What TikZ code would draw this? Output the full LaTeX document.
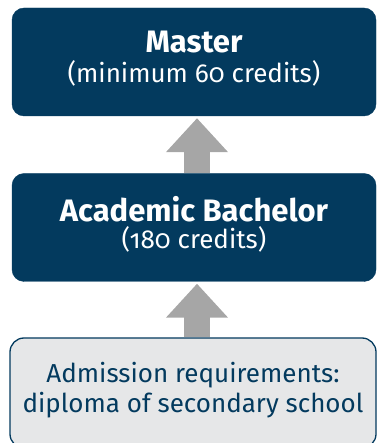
\documentclass[tikz,border=0pt]{standalone}
\usepackage{fontspec}
\setmainfont{Fira Sans}[RawFeature={+onum}]
\usetikzlibrary{arrows.meta,calc}
\definecolor{navy}{HTML}{033A5E}
\definecolor{arrgray}{HTML}{A6A6A6}
\definecolor{paleg}{HTML}{E6E7E8}
\begin{document}
\begin{tikzpicture}[x=1pt,y=1pt,
  darkbox/.style={draw=navy, fill=navy, rounded corners=12pt, minimum width=364pt, minimum height=108pt, inner sep=0pt},
  palebox/.style={draw=navy, line width=1.3pt, fill=paleg, rounded corners=14pt, minimum width=366pt, minimum height=110pt, inner sep=0pt},
  whitetext/.style={text=white, align=center, inner sep=0pt},
  navytext/.style={text=navy, align=center, inner sep=0pt},
  uparrow/.style={arrgray, line width=26pt, -{Triangle[width=60pt,length=34pt]}, shorten >=2pt}
]
\useasboundingbox (0,0) rectangle (377,443);
\clip (0,0) rectangle (377,443);
\node[darkbox] (mast) at (194,381) {};
\node[darkbox] (bach) at (194,215.5) {};
\node[palebox] (adm) at (193,50) {};
\node[whitetext, font=\fontsize{26}{30}\selectfont] (masttxt) at ($(mast.center)+(0,3)$) {{\fontsize{31}{30}\selectfont\bfseries Master}\\(minimum 60 credits)};
\node[whitetext, font=\fontsize{26}{27}\selectfont] (bachtxt) at ($(bach.center)+(0,3)$) {{\fontsize{31}{27}\selectfont\bfseries Academic Bachelor}\\(180 credits)};
\node[navytext, font=\fontsize{26}{30}\selectfont] (admtxt) at ($(adm.center)+(0,3)$) {Admission requirements:\\diploma of secondary school};
\draw[uparrow] ($(bach.north)+(3,0)$) -- ($(mast.south)+(3,0)$);
\draw[uparrow] ($(adm.north)+(4,0)$) -- ($(bach.south)+(3,0)$);
\end{tikzpicture}
\end{document}
